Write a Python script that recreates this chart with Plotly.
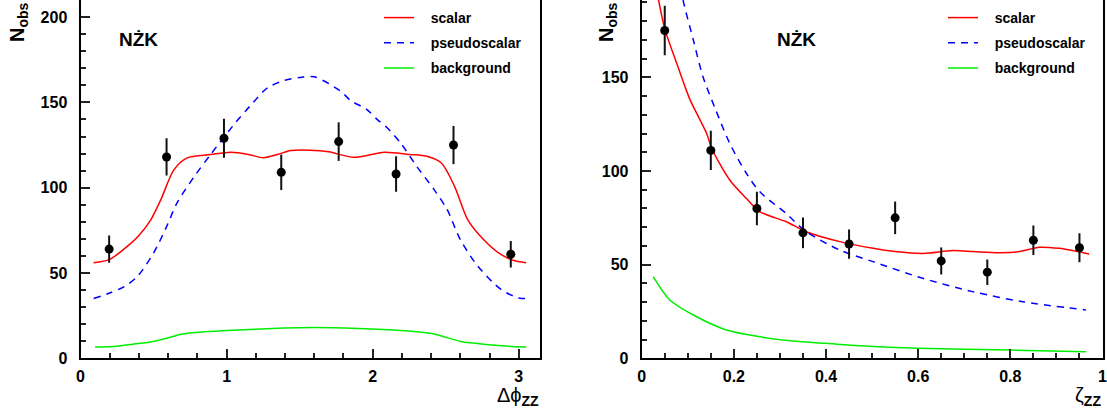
import plotly.graph_objects as go

# ---------------- data: azimuthal angle between the Z planes ----------------
dphi_bins = [0.196, 0.589, 0.982, 1.374, 1.767, 2.160, 2.553, 2.945]
dphi_counts = [64, 118, 129, 109, 127, 108, 125, 61]
dphi_err = [8.0, 10.9, 11.4, 10.4, 11.3, 10.4, 11.2, 7.8]

dphi_x_scalar = [0.09, 0.2, 0.32, 0.4, 0.48, 0.55, 0.64, 0.73, 0.89, 1.03, 1.15, 1.25,
                 1.35, 1.44, 1.57, 1.7, 1.87, 2.08, 2.25, 2.37, 2.47, 2.56, 2.65,
                 2.76, 2.88, 2.96, 3.05]
dphi_scalar = [56, 58, 65.6, 72, 81, 93, 110.6, 117.5, 119.4, 120.8, 119.5, 117.5,
               119.5, 121.8, 122, 121, 117.8, 120.8, 119.5, 118.4, 114.5, 100.8, 81.3,
               69.5, 60.7, 57.5, 56]

dphi_x_pseudo = [0.09, 0.2, 0.3, 0.39, 0.5, 0.59, 0.66, 0.78, 0.89, 1.06, 1.16, 1.28,
                 1.4, 1.5, 1.6, 1.78, 1.85, 1.96, 2.03, 2.1, 2.19, 2.3, 2.42, 2.51,
                 2.6, 2.72, 2.88, 3.0, 3.05]
dphi_pseudo = [35, 38.3, 42, 48, 61.7, 77.3, 91, 106.7, 119.4, 138, 147.8, 158.5,
               163, 164.6, 165, 156.6, 151, 145.8, 140, 135, 126.3, 112.6, 98.9, 87.1,
               69.5, 53.9, 40.2, 35.3, 35]

dphi_x_bkg = [0.1, 0.25, 0.36, 0.48, 0.6, 0.7, 0.85, 1.0, 1.39, 1.6, 1.9, 2.19, 2.3,
              2.42, 2.6, 2.69, 2.88, 3.05]
dphi_bkg = [6.6, 7.1, 8.3, 9.5, 12, 14.2, 15.5, 16.3, 17.7, 18, 17.4, 16.3, 15.5,
            14.2, 9.9, 8.9, 7.3, 6.6]

# ---------------- data: zeta distribution ----------------
zeta_bins = [0.05, 0.15, 0.25, 0.35, 0.45, 0.55, 0.65, 0.75, 0.85, 0.95]
zeta_counts = [175, 111, 80, 67, 61, 75, 52, 46, 63, 59]
zeta_err = [13.2, 10.5, 8.9, 8.2, 7.8, 8.7, 7.2, 6.8, 7.9, 7.7]

zeta_x_scalar = [0.03, 0.05, 0.076, 0.094, 0.105, 0.141, 0.152, 0.191, 0.227, 0.256,
                 0.314, 0.357, 0.43, 0.502, 0.55, 0.61, 0.675, 0.72, 0.776, 0.82,
                 0.863, 0.906, 0.94, 0.971]
zeta_scalar = [200, 176, 157.5, 145, 138, 120, 112, 95.2, 85.4, 78.3,
               72.9, 67.6, 62.3, 58.7, 57, 56, 57.5, 57, 56.4, 57,
               59.3, 58.7, 57.3, 55.7]

zeta_x_pseudo = [0.08, 0.09, 0.112, 0.133, 0.16, 0.191, 0.227, 0.256, 0.313,
                 0.357, 0.43, 0.502, 0.61, 0.718, 0.827, 0.964]
zeta_pseudo = [205, 191, 170, 150.3, 133, 114.8, 98.8, 89, 77.4,
               67.6, 57.8, 51.6, 42.7, 35.6, 30.2, 25.8]

zeta_x_bkg = [0.025, 0.061, 0.112, 0.184, 0.256, 0.328, 0.4, 0.473, 0.6, 0.8, 0.964]
zeta_bkg = [43.6, 31.1, 23.1, 15.1, 11.5, 9.2, 8.0, 6.7, 5.3, 4.4, 3.5]

# ---------------- tick labels ----------------
dphi_ticks = [0, 1, 2, 3]
dphi_ticklabels = ["0", "1", "2", "3"]
zeta_ticks = [0, 0.2, 0.4, 0.6, 0.8, 1.0]
zeta_ticklabels = ["0", "0.2", "0.4", "0.6", "0.8", "1"]
count_ticks = [0, 50, 100, 150, 200]
count_ticklabels = ["0", "50", "100", "150", "200"]

legend_names = ["scalar", "pseudoscalar", "background"]

FONT = "Liberation Sans, Arial, Helvetica, sans-serif"
W, H = 1107, 415

fig = go.Figure()


def add_panel(xa, ya, legend, xb, yb, eb, xs, ys, xp, yp, xg, yg):
    pad = "&nbsp;&nbsp;&nbsp;"
    fig.add_trace(go.Scatter(x=xs, y=ys, mode="lines",
                             name=pad + "<b>" + legend_names[0] + "</b>",
                             line=dict(color="#ff0000", width=1.5, shape="spline", smoothing=0.8),
                             xaxis=xa, yaxis=ya, legend=legend, legendgroup=legend + "s"))
    fig.add_trace(go.Scatter(x=xp, y=yp, mode="lines",
                             name=pad + "<b>" + legend_names[1] + "</b>",
                             line=dict(color="#0000ff", width=1.5, dash="7px,6px",
                                       shape="spline", smoothing=0.8),
                             xaxis=xa, yaxis=ya, legend=legend, legendgroup=legend + "p"))
    fig.add_trace(go.Scatter(x=xg, y=yg, mode="lines",
                             name=pad + "<b>" + legend_names[2] + "</b>",
                             line=dict(color="#00ee00", width=1.5, shape="spline", smoothing=0.8),
                             xaxis=xa, yaxis=ya, legend=legend, legendgroup=legend + "b"))
    fig.add_trace(go.Scatter(x=xb, y=yb, mode="markers", showlegend=False,
                             marker=dict(color="black", size=9),
                             error_y=dict(type="data", array=eb, visible=True,
                                          color="#111111", thickness=2, width=0),
                             xaxis=xa, yaxis=ya))


add_panel("x", "y", "legend", dphi_bins, dphi_counts, dphi_err,
          dphi_x_scalar, dphi_scalar, dphi_x_pseudo, dphi_pseudo, dphi_x_bkg, dphi_bkg)
add_panel("x2", "y2", "legend2", zeta_bins, zeta_counts, zeta_err,
          zeta_x_scalar, zeta_scalar, zeta_x_pseudo, zeta_pseudo, zeta_x_bkg, zeta_bkg)


def bold(labels):
    return ["<b>" + t + "</b>" for t in labels]


tickfont = dict(family=FONT, size=16, color="black")
common_axis = dict(showgrid=False, zeroline=False, showline=True, linecolor="black",
                   linewidth=2, mirror=True, ticks="inside", ticklen=9, tickwidth=1.5,
                   tickcolor="#222222", tickfont=tickfont, automargin=False,
                   ticklabeloverflow="allow")


def minor(step):
    return dict(ticks="inside", ticklen=5, dtick=step, tick0=0, tickwidth=1.5,
                tickcolor="#222222")


y_bottom = 1 - 358.3 / H

fig.update_layout(
    width=W, height=H,
    margin=dict(l=0, r=0, t=0, b=0, autoexpand=False),
    paper_bgcolor="white", plot_bgcolor="white",
    font=dict(family=FONT, color="black"),
    xaxis=dict(domain=[80.5 / W, 539.5 / W], range=[0, 3.1416], anchor="y",
               tickmode="array", tickvals=dphi_ticks, ticktext=bold(dphi_ticklabels),
               ticklabelstandoff=2, minor=minor(0.2), **common_axis),
    yaxis=dict(domain=[y_bottom, 1.0], range=[0, 210], anchor="x",
               tickmode="array", tickvals=count_ticks, ticktext=bold(count_ticklabels),
               ticklabelstandoff=8, minor=minor(10), **common_axis),
    xaxis2=dict(domain=[641.7 / W, 1102.5 / W], range=[0, 1], anchor="y2",
                tickmode="array", tickvals=zeta_ticks, ticktext=bold(zeta_ticklabels),
                ticklabelstandoff=2, minor=minor(0.05), **common_axis),
    yaxis2=dict(domain=[y_bottom, 1.0], range=[0, 191.3], anchor="x2",
                tickmode="array", tickvals=count_ticks, ticktext=bold(count_ticklabels),
                ticklabelstandoff=8, minor=minor(10), **common_axis),
    legend=dict(x=379 / W, y=1 - 2 / H, xanchor="left", yanchor="top",
                bgcolor="rgba(0,0,0,0)", tracegroupgap=4,
                font=dict(family=FONT, size=14, color="black")),
    legend2=dict(x=943 / W, y=1 - 2 / H, xanchor="left", yanchor="top",
                 bgcolor="rgba(0,0,0,0)", tracegroupgap=4,
                 font=dict(family=FONT, size=14, color="black")),
    showlegend=True,
)

label_font = dict(family=FONT, size=19, color="black")
for xpix in (138, 796):
    fig.add_annotation(text="<b>NŻK</b>", x=xpix / W, y=1 - 39 / H, xref="paper",
                       yref="paper", showarrow=False, xanchor="center", yanchor="middle",
                       font=label_font)

ytitle_font = dict(family=FONT, size=20, color="black")
for xpix in (19, 608):
    fig.add_annotation(text="<b>N<sub>obs</sub></b>", x=xpix / W, y=1 - 22 / H,
                       xref="paper", yref="paper", showarrow=False, textangle=-90,
                       xanchor="center", yanchor="middle", font=ytitle_font)

xtitle_font = dict(family=FONT, size=20, color="black")
fig.add_annotation(text="Δϕ<sub><b>ZZ</b></sub>", x=541 / W, y=1 - 396 / H,
                   xref="paper", yref="paper", showarrow=False,
                   xanchor="right", yanchor="middle", font=xtitle_font)
fig.add_annotation(text="ζ<sub><b>ZZ</b></sub>", x=1103 / W, y=1 - 396 / H,
                   xref="paper", yref="paper", showarrow=False,
                   xanchor="right", yanchor="middle", font=xtitle_font)

fig.write_html("out.html")
